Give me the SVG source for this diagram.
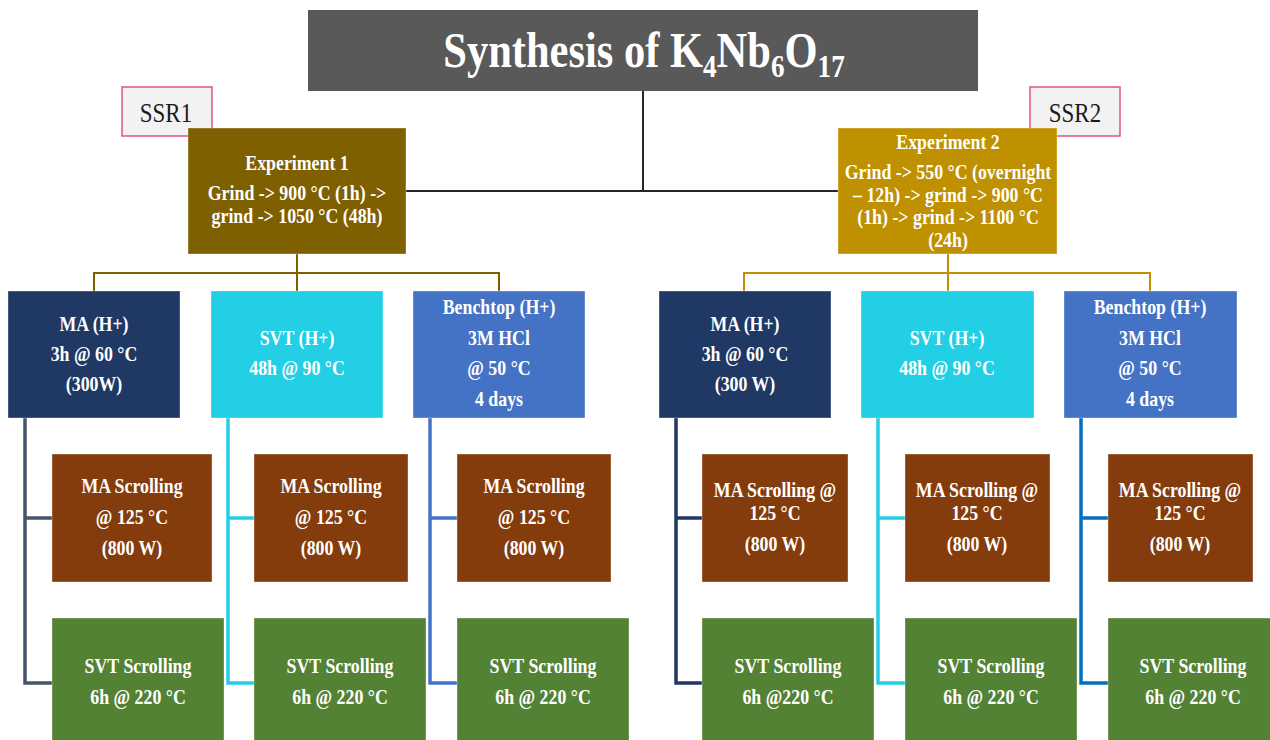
<svg xmlns="http://www.w3.org/2000/svg" width="1270" height="740" viewBox="0 0 1270 740">
<style>
.t{font-family:"Liberation Serif","Times New Roman",serif;font-weight:bold;fill:#ffffff;text-anchor:middle}
.n{font-size:21px}
.ttl{font-size:50px}
.sub{font-size:32px}
.ssr{font-family:"Liberation Serif","Times New Roman",serif;font-size:27px;fill:#1a1a1a;text-anchor:middle}
.box{stroke:#ffffff;stroke-opacity:0.35;stroke-width:1}
.ma{fill:#203864}.svt{fill:#22cfe5}.bt{fill:#4472c4}
.mas{fill:#843c0c}.svts{fill:#548235}
.c{fill:none;stroke-linejoin:miter;stroke-linecap:butt}
</style>
<rect width="1270" height="740" fill="#ffffff"/>
<g id="connectors">
<path class="c" d="M643 91 V191 M406 191 H838" stroke="#262626" stroke-width="2"/>
<path class="c" d="M297 254 V273 M94 291 V273 H499 V291 M297 273 V291" stroke="#7f6000" stroke-width="2"/>
<path class="c" d="M948 254 V273 M744 291 V273 H1150 V291 M948 273 V291" stroke="#bf9000" stroke-width="2"/>
<path class="c" d="M25 418 V683 H52 M25 518 H52" stroke="#44546a" stroke-width="3.5"/>
<path class="c" d="M228 418 V683 H254 M228 518 H254" stroke="#22cfe5" stroke-width="3.5"/>
<path class="c" d="M430 418 V683 H457 M430 518 H457" stroke="#4472c4" stroke-width="3.5"/>
<path class="c" d="M676 418 V683 H702 M676 518 H702" stroke="#203864" stroke-width="3.5"/>
<path class="c" d="M878 418 V683 H905 M878 518 H905" stroke="#22cfe5" stroke-width="3.5"/>
<path class="c" d="M1081 418 V683 H1108 M1081 518 H1108" stroke="#0070c0" stroke-width="3.5"/>
</g>
<g id="title">
<rect x="308" y="10" width="670" height="81" fill="#595959"/>
<g transform="translate(644,0) scale(0.85,1)"><text class="t ttl" x="0" y="67">Synthesis of K<tspan class="sub" dy="10">4</tspan><tspan dy="-10">Nb</tspan><tspan class="sub" dy="10">6</tspan><tspan dy="-10">O</tspan><tspan class="sub" dy="10">17</tspan></text></g>
</g>
<g id="ssr1">
<rect x="122" y="87" width="90" height="49" fill="#f2f2f2" stroke="#e0508f" stroke-width="1.5"/>
<g transform="translate(166,0) scale(0.85,1)"><text class="ssr" x="0" y="122">SSR1</text></g>
</g>
<g id="ssr2">
<rect x="1030" y="87" width="90" height="49" fill="#f2f2f2" stroke="#e0508f" stroke-width="1.5"/>
<g transform="translate(1075,0) scale(0.85,1)"><text class="ssr" x="0" y="122">SSR2</text></g>
</g>
<g id="exp1">
<rect class="box" x="188" y="128" width="218" height="126" fill="#7f6000"/>
<g transform="translate(297,0) scale(0.85,1)" class="t n">
<text x="0" y="170">Experiment 1</text>
<text x="0" y="200">Grind -&gt; 900 °C (1h) -&gt;</text>
<text x="0" y="223">grind -&gt; 1050 °C (48h)</text>
</g>
</g>
<g id="exp2">
<rect class="box" x="838" y="128" width="219" height="126" fill="#bf9000"/>
<g transform="translate(948,0) scale(0.85,1)" class="t n">
<text x="0" y="149">Experiment 2</text>
<text x="0" y="179">Grind -&gt; 550 °C (overnight</text>
<text x="0" y="202">– 12h) -&gt; grind -&gt; 900 °C</text>
<text x="0" y="224">(1h) -&gt; grind -&gt; 1100 °C</text>
<text x="0" y="247">(24h)</text>
</g>
</g>
<g id="ma1">
<rect class="box ma" x="8" y="291" width="172" height="127"/>
<g transform="translate(94,0) scale(0.85,1)" class="t n">
<text x="0" y="331">MA (H+)</text><text x="0" y="361">3h @ 60 °C</text><text x="0" y="391">(300W)</text>
</g>
</g>
<g id="svt1">
<rect class="box svt" x="211" y="291" width="172" height="127"/>
<g transform="translate(297,0) scale(0.85,1)" class="t n">
<text x="0" y="345">SVT (H+)</text><text x="0" y="375">48h @ 90 °C</text>
</g>
</g>
<g id="bench1">
<rect class="box bt" x="413" y="291" width="172" height="127"/>
<g transform="translate(499,0) scale(0.85,1)" class="t n">
<text x="0" y="314">Benchtop (H+)</text><text x="0" y="345">3M HCl</text><text x="0" y="375">@ 50 °C</text><text x="0" y="406">4 days</text>
</g>
</g>
<g id="ma2">
<rect class="box ma" x="659" y="291" width="172" height="127"/>
<g transform="translate(745,0) scale(0.85,1)" class="t n">
<text x="0" y="331">MA (H+)</text><text x="0" y="361">3h @ 60 °C</text><text x="0" y="391">(300 W)</text>
</g>
</g>
<g id="svt2">
<rect class="box svt" x="861" y="291" width="173" height="127"/>
<g transform="translate(947,0) scale(0.85,1)" class="t n">
<text x="0" y="345">SVT (H+)</text><text x="0" y="375">48h @ 90 °C</text>
</g>
</g>
<g id="bench2">
<rect class="box bt" x="1064" y="291" width="173" height="127"/>
<g transform="translate(1150,0) scale(0.85,1)" class="t n">
<text x="0" y="314">Benchtop (H+)</text><text x="0" y="345">3M HCl</text><text x="0" y="375">@ 50 °C</text><text x="0" y="406">4 days</text>
</g>
</g>
<g id="mas1">
<rect class="box mas" x="52" y="454" width="160" height="128"/>
<g transform="translate(132,0) scale(0.85,1)" class="t n">
<text x="0" y="493">MA Scrolling</text><text x="0" y="524">@ 125 °C</text><text x="0" y="555">(800 W)</text>
</g>
</g>
<g id="mas2">
<rect class="box mas" x="254" y="454" width="154" height="128"/>
<g transform="translate(331,0) scale(0.85,1)" class="t n">
<text x="0" y="493">MA Scrolling</text><text x="0" y="524">@ 125 °C</text><text x="0" y="555">(800 W)</text>
</g>
</g>
<g id="mas3">
<rect class="box mas" x="457" y="454" width="154" height="128"/>
<g transform="translate(534,0) scale(0.85,1)" class="t n">
<text x="0" y="493">MA Scrolling</text><text x="0" y="524">@ 125 °C</text><text x="0" y="555">(800 W)</text>
</g>
</g>
<g id="mas4">
<rect class="box mas" x="702" y="454" width="146" height="128"/>
<g transform="translate(775,0) scale(0.85,1)" class="t n">
<text x="0" y="497">MA Scrolling @</text><text x="0" y="520">125 °C</text><text x="0" y="551">(800 W)</text>
</g>
</g>
<g id="mas5">
<rect class="box mas" x="905" y="454" width="145" height="128"/>
<g transform="translate(977,0) scale(0.85,1)" class="t n">
<text x="0" y="497">MA Scrolling @</text><text x="0" y="520">125 °C</text><text x="0" y="551">(800 W)</text>
</g>
</g>
<g id="mas6">
<rect class="box mas" x="1108" y="454" width="145" height="128"/>
<g transform="translate(1180,0) scale(0.85,1)" class="t n">
<text x="0" y="497">MA Scrolling @</text><text x="0" y="520">125 °C</text><text x="0" y="551">(800 W)</text>
</g>
</g>
<g id="svts1">
<rect class="box svts" x="52" y="618" width="172" height="128"/>
<g transform="translate(138,0) scale(0.85,1)" class="t n">
<text x="0" y="673">SVT Scrolling</text><text x="0" y="704">6h @ 220 °C</text>
</g>
</g>
<g id="svts2">
<rect class="box svts" x="254" y="618" width="172" height="128"/>
<g transform="translate(340,0) scale(0.85,1)" class="t n">
<text x="0" y="673">SVT Scrolling</text><text x="0" y="704">6h @ 220 °C</text>
</g>
</g>
<g id="svts3">
<rect class="box svts" x="457" y="618" width="172" height="128"/>
<g transform="translate(543,0) scale(0.85,1)" class="t n">
<text x="0" y="673">SVT Scrolling</text><text x="0" y="704">6h @ 220 °C</text>
</g>
</g>
<g id="svts4">
<rect class="box svts" x="702" y="618" width="172" height="128"/>
<g transform="translate(788,0) scale(0.85,1)" class="t n">
<text x="0" y="673">SVT Scrolling</text><text x="0" y="704">6h @220 °C</text>
</g>
</g>
<g id="svts5">
<rect class="box svts" x="905" y="618" width="172" height="128"/>
<g transform="translate(991,0) scale(0.85,1)" class="t n">
<text x="0" y="673">SVT Scrolling</text><text x="0" y="704">6h @ 220 °C</text>
</g>
</g>
<g id="svts6">
<rect class="box svts" x="1108" y="618" width="170" height="128"/>
<g transform="translate(1193,0) scale(0.85,1)" class="t n">
<text x="0" y="673">SVT Scrolling</text><text x="0" y="704">6h @ 220 °C</text>
</g>
</g>
</svg>
